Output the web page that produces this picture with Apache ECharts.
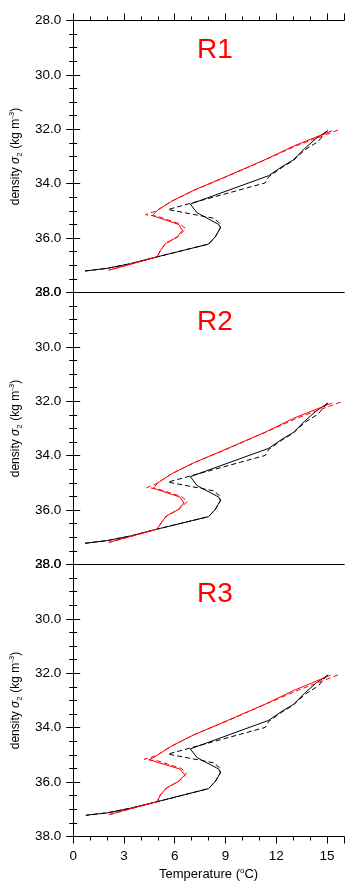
<!DOCTYPE html>
<html>
<head>
<meta charset="utf-8">
<script src="https://cdn.jsdelivr.net/npm/echarts@6/dist/echarts.min.js"></script>
<style>html,body{margin:0;padding:0;background:#fff}#c{width:364px;height:894px}</style>
</head>
<body>
<div id="c"></div>
<script>
// ---- Data: [temperature (°C), density sigma2 (kg m-3)] ----
const panelTitles = ['R1', 'R2', 'R3'];
const xTicks = [0, 3, 6, 9, 12, 15];
const yTicks = [28, 30, 32, 34, 36, 38];

const R1_blackSolid = [[15.06,32.04],[14.37,32.33],[13.69,32.70],[13.0,33.13],[12.32,33.38],[11.53,33.71],[6.92,34.75],[7.32,35.07],[8.6,35.50],[8.7,35.62],[8.4,35.95],[8.0,36.22],[4.96,36.69],[3.39,36.94],[2.02,37.11],[0.7,37.21]];
const R1_blackDash  = [[15.0,32.06],[14.47,32.45],[13.7,32.75],[13.0,33.15],[12.3,33.42],[11.55,33.75],[11.35,33.97],[5.6,34.95],[8.3,35.27],[8.65,35.45],[8.7,35.62],[8.4,35.95],[8.0,36.22],[4.96,36.69],[3.39,36.94],[2.02,37.11],[0.7,37.21]];
const R1_redSolid   = [[15.3,32.05],[13.0,32.62],[11.4,33.1],[9.1,33.72],[7.1,34.25],[5.8,34.65],[5.0,34.97],[4.67,35.17],[6.24,35.5],[6.45,35.72],[6.14,35.96],[5.45,36.2],[5.16,36.45],[4.96,36.69],[3.39,36.96],[2.1,37.18]];
const R1_redDash    = [[15.65,32.03],[13.2,32.6],[11.5,33.08],[9.1,33.73],[7.1,34.25],[5.8,34.65],[4.9,35.0],[4.28,35.14],[5.0,35.2],[6.3,35.48],[6.65,35.65],[6.2,35.95],[5.45,36.2],[5.16,36.45],[4.96,36.69],[3.39,36.96],[2.1,37.18]];

const R2_blackSolid = [[15.06,32.06],[14.37,32.35],[13.69,32.72],[13.0,33.15],[12.32,33.40],[11.55,33.73],[6.92,34.77],[7.32,35.10],[8.6,35.52],[8.7,35.65],[8.4,35.97],[8.0,36.24],[4.96,36.70],[3.39,36.95],[2.02,37.12],[0.7,37.22]];
const R2_blackDash  = [[15.0,32.08],[14.47,32.47],[13.7,32.77],[13.0,33.17],[12.3,33.44],[11.55,33.77],[11.35,33.99],[5.6,34.97],[8.3,35.29],[8.65,35.47],[8.7,35.65],[8.4,35.97],[8.0,36.24],[4.96,36.70],[3.39,36.95],[2.02,37.12],[0.7,37.22]];
const R2_redSolid   = [[15.3,32.06],[13.0,32.63],[11.4,33.12],[9.1,33.74],[7.1,34.27],[5.8,34.67],[5.0,35.0],[4.75,35.2],[6.3,35.52],[6.55,35.74],[6.2,35.98],[5.5,36.22],[5.2,36.47],[4.96,36.70],[3.39,36.97],[2.1,37.19]];
const R2_redDash    = [[15.8,32.03],[13.3,32.6],[11.5,33.1],[9.1,33.75],[7.1,34.27],[5.8,34.67],[4.95,35.02],[4.35,35.17],[5.0,35.22],[6.4,35.5],[6.75,35.68],[6.25,35.97],[5.5,36.22],[5.2,36.47],[4.96,36.70],[3.39,36.97],[2.1,37.19]];

const R3_blackSolid = [[15.06,32.06],[14.37,32.35],[13.69,32.72],[13.0,33.15],[12.32,33.40],[11.55,33.73],[6.92,34.78],[7.32,35.10],[8.6,35.52],[8.7,35.66],[8.4,35.97],[8.0,36.24],[4.96,36.72],[3.39,36.96],[2.02,37.13],[0.75,37.22]];
const R3_blackDash  = [[15.0,32.08],[14.47,32.47],[13.7,32.77],[13.0,33.17],[12.3,33.44],[11.55,33.77],[11.35,33.99],[5.6,34.97],[8.3,35.29],[8.65,35.47],[8.7,35.66],[8.4,35.97],[8.0,36.24],[4.96,36.72],[3.39,36.96],[2.02,37.13],[0.75,37.22]];
const R3_redSolid   = [[15.2,32.07],[13.0,32.64],[11.4,33.12],[9.1,33.74],[7.1,34.27],[5.8,34.68],[4.95,35.02],[4.5,35.18],[6.3,35.52],[6.6,35.74],[6.2,35.98],[5.5,36.22],[5.15,36.48],[4.96,36.72],[3.39,36.98],[2.1,37.2]];
const R3_redDash    = [[15.65,32.06],[13.3,32.62],[11.5,33.1],[9.1,33.75],[7.1,34.27],[5.8,34.68],[4.9,35.03],[4.2,35.16],[5.0,35.22],[6.4,35.5],[6.7,35.7],[6.25,35.97],[5.5,36.22],[5.15,36.48],[4.96,36.72],[3.39,36.98],[2.1,37.2]];

const panels = [
  [R1_blackSolid, R1_blackDash, R1_redSolid, R1_redDash],
  [R2_blackSolid, R2_blackDash, R2_redSolid, R2_redDash],
  [R3_blackSolid, R3_blackDash, R3_redSolid, R3_redDash]
];

// ---- Layout / styling ----
const FONT = 'Liberation Sans';
const gridTops = [20.5, 292.5, 564.5];
const GRID_H = 272, GRID_L = 72, GRID_W = 272;
const lineStyles = [
  {color:'#000', type:'solid'},
  {color:'#000', type:[5,3]},
  {color:'#ff0000', type:'solid'},
  {color:'#ff0000', type:[5,3]}
];

const grids = [], xAxes = [], yAxes = [], series = [], titles = [];
const axisLine = {show:true, lineStyle:{color:'#000', width:1}};

panels.forEach((lines, p) => {
  grids.push({left:GRID_L, top:gridTops[p], width:GRID_W, height:GRID_H, containLabel:false});
  titles.push({text:panelTitles[p], left:210, top:gridTops[p]+11, textAlign:'center',
    textStyle:{color:'#ff0000', fontSize:28, fontWeight:'normal', fontFamily:FONT}});
  const isLast = p === panels.length - 1, isFirst = p === 0;
  // bottom x axis
  xAxes.push({
    type:'value', gridIndex:p, position:'bottom', min:0, max:16, interval:3,
    axisLine, splitLine:{show:false},
    axisTick:{show:isLast, length:7, lineStyle:{color:'#000', width:1}},
    minorTick:{show:isLast, splitNumber:3, length:4, lineStyle:{color:'#000', width:1}},
    axisLabel:{show:isLast, margin:13, color:'#000', fontSize:13.5, fontFamily:FONT,
      customValues: xTicks},
    name: isLast ? '{a|Temperature (}{sup|o}{a|C)}' : '',
    nameLocation:'middle', nameGap:30,
    nameTextStyle:{rich:{
      a:{fontSize:13, fontFamily:FONT, color:'#000', lineHeight:16},
      sup:{fontSize:8, fontFamily:FONT, color:'#000', verticalAlign:'top', lineHeight:16}
    }}
  });
  // top x axis
  xAxes.push({
    type:'value', gridIndex:p, position:'top', min:0, max:16, interval:3,
    axisLine, splitLine:{show:false}, axisLabel:{show:false},
    axisTick:{show:isFirst, length:7, lineStyle:{color:'#000', width:1}},
    minorTick:{show:isFirst, splitNumber:3, length:4, lineStyle:{color:'#000', width:1}}
  });
  // left y axis
  yAxes.push({
    type:'value', gridIndex:p, position:'left', inverse:true, min:28, max:38, interval:2,
    axisLine, splitLine:{show:false},
    axisTick:{show:true, length:7, lineStyle:{color:'#000', width:1}},
    minorTick:{show:true, splitNumber:4, length:4, lineStyle:{color:'#000', width:1}},
    axisLabel:{show:true, margin:12, color:'#000', fontSize:13.5, fontFamily:FONT,
      showMinLabel:true, showMaxLabel:true, customValues: yTicks, formatter:v => v.toFixed(1)},
    name:'{a|density }{s|σ}{sub|2}{a| (kg m}{sup|-3}{a|)}',
    nameLocation:'middle', nameGap:44, nameRotate:90,
    nameTextStyle:{rich:{
      a:{fontSize:12, fontFamily:FONT, color:'#000', lineHeight:16},
      s:{fontSize:12, fontFamily:FONT, color:'#000', fontStyle:'italic', lineHeight:16},
      sub:{fontSize:8, fontFamily:FONT, color:'#000', verticalAlign:'bottom', lineHeight:16},
      sup:{fontSize:8, fontFamily:FONT, color:'#000', verticalAlign:'top', lineHeight:16}
    }}
  });
  // right y axis
  yAxes.push({
    type:'value', gridIndex:p, position:'right', inverse:true, min:28, max:38, interval:2,
    axisLine, splitLine:{show:false}, axisLabel:{show:false},
    axisTick:{show:true, length:7, lineStyle:{color:'#000', width:1}},
    minorTick:{show:true, splitNumber:4, length:4, lineStyle:{color:'#000', width:1}}
  });
  lines.forEach((d, i) => {
    series.push({
      type:'line', xAxisIndex:p*2, yAxisIndex:p*2, data:d,
      symbol:'none', smooth:false, silent:true, z: i >= 2 ? 3 : 2,
      lineStyle:{width:1, color:lineStyles[i].color, type:lineStyles[i].type}
    });
  });
});

const chart = echarts.init(document.getElementById('c'), null, {renderer:'canvas'});
chart.setOption({
  animation:false, backgroundColor:'#fff',
  title:titles, grid:grids, xAxis:xAxes, yAxis:yAxes, series
});
</script>
</body>
</html>
